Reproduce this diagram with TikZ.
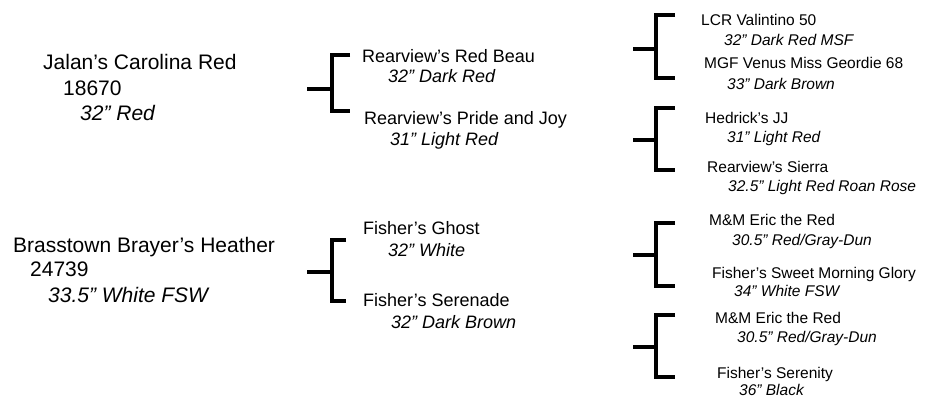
\documentclass[tikz,border=0pt]{standalone}
\usepackage{fontspec}
\setmainfont{Liberation Sans}
\usetikzlibrary{positioning}

\begin{document}
\begin{tikzpicture}[
    x=1pt, y=-1pt,
    horse/.style={anchor=west, inner sep=0pt, text height=0.72em, text depth=0pt, yshift=-3pt},
    dam/.style={horse, font=\fontsize{21}{25}\selectfont},
    parent/.style={horse, font=\fontsize{18}{22}\selectfont},
    grand/.style={horse, font=\fontsize{15.5}{19}\selectfont},
    coat/.style={execute at begin node=\itshape},
    brk/.style={line width=4pt}
]
\useasboundingbox (0,0) rectangle (925,399);

% Dams
\node[dam] (jalan) at (43,63) {Jalan’s Carolina Red};
\node[dam] (jalan_no) at (63,89) {18670};
\node[dam, coat] (jalan_col) at (80,114) {32” Red};

\node[dam] (heather) at (13,246) {Brasstown Brayer’s Heather};
\node[dam] (heather_no) at (30,270) {24739};
\node[dam, coat] (heather_col) at (48,296) {33.5” White FSW};

% Parents
\node[parent] (red_beau) at (362,56) {Rearview’s Red Beau};
\node[parent, coat] (red_beau_col) at (388,76) {32” Dark Red};
\node[parent] (pride_joy) at (364,118) {Rearview’s Pride and Joy};
\node[parent, coat] (pride_joy_col) at (390,139) {31” Light Red};

\node[parent] (ghost) at (363,228) {Fisher’s Ghost};
\node[parent, coat] (ghost_col) at (388,250) {32” White};
\node[parent] (serenade) at (363,300) {Fisher’s Serenade};
\node[parent, coat] (serenade_col) at (391,322) {32” Dark Brown};

% Grandparents
\node[grand] (valintino) at (701,19) {LCR Valintino 50};
\node[grand, coat] (valintino_col) at (724,39) {32” Dark Red MSF};
\node[grand] (venus) at (704,62) {MGF Venus Miss Geordie 68};
\node[grand, coat] (venus_col) at (727,83) {33” Dark Brown};

\node[grand] (hedrick) at (705,117) {Hedrick’s JJ};
\node[grand, coat] (hedrick_col) at (727,136) {31” Light Red};
\node[grand] (sierra) at (707,166) {Rearview’s Sierra};
\node[grand, coat] (sierra_col) at (728,185) {32.5” Light Red Roan Rose};

\node[grand] (eric_a) at (709,219) {M\&M Eric the Red};
\node[grand, coat] (eric_a_col) at (732,239) {30.5” Red/Gray-Dun};
\node[grand] (glory) at (712,272) {Fisher’s Sweet Morning Glory};
\node[grand, coat] (glory_col) at (734,290) {34” White FSW};

\node[grand] (eric_b) at (715,317) {M\&M Eric the Red};
\node[grand, coat] (eric_b_col) at (737,336) {30.5” Red/Gray-Dun};
\node[grand] (serenity) at (717,372) {Fisher’s Serenity};
\node[grand, coat] (serenity_col) at (739,389) {36” Black};

% Bracket points
\coordinate (s1) at (307,89);  \coordinate (j1) at (332,89);
\coordinate (t1) at (350,55);  \coordinate (u1) at (350,111);
\coordinate (s2) at (307,272); \coordinate (j2) at (332,272);
\coordinate (t2) at (346,240); \coordinate (u2) at (346,301);

\coordinate (s3) at (633,49);  \coordinate (j3) at (656,49);
\coordinate (t3) at (675,15);  \coordinate (u3) at (675,78);
\coordinate (s4) at (633,140); \coordinate (j4) at (656,140);
\coordinate (t4) at (675,108); \coordinate (u4) at (675,170);
\coordinate (s5) at (633,255); \coordinate (j5) at (656,255);
\coordinate (t5) at (675,223); \coordinate (u5) at (675,286);
\coordinate (s6) at (633,347); \coordinate (j6) at (656,347);
\coordinate (t6) at (675,315); \coordinate (u6) at (675,377);

% Brackets
\foreach \i in {1,...,6} {
    \draw[brk] (s\i) -- (j\i);
    \draw[brk] (t\i) -| (j\i) |- (u\i);
}

\end{tikzpicture}
\end{document}
